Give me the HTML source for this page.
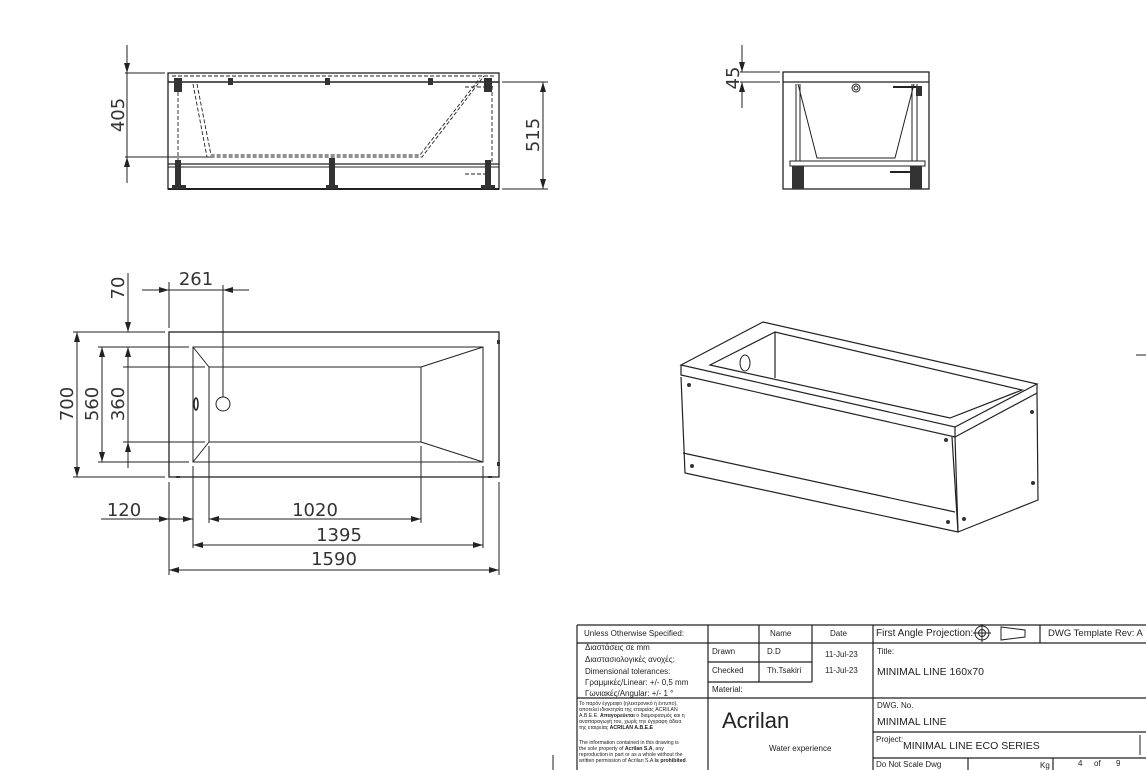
<!DOCTYPE html>
<html><head><meta charset="utf-8"><style>
html,body{margin:0;padding:0;background:#fff;}
svg{display:block;font-family:"DejaVu Sans","Liberation Sans",sans-serif;}
.d{font-size:18px;fill:#333;}
.t{font-size:8px;fill:#222;font-family:"Liberation Sans",sans-serif;}
.tb{font-family:"Liberation Sans",sans-serif;fill:#222;}
</style></head><body>
<svg width="1146" height="770" viewBox="0 0 1146 770" xmlns="http://www.w3.org/2000/svg">
<defs>
<marker id="a" viewBox="0 0 10 6" refX="10" refY="3" markerWidth="10" markerHeight="6" orient="auto-start-reverse" markerUnits="userSpaceOnUse"><path d="M0,0L10,3L0,6z" fill="#222"/></marker>
</defs>
<g stroke="#222" fill="none" stroke-width="1">
<!-- FRONT VIEW -->
<rect x="168" y="73" width="331" height="116" stroke-width="1.3"/>
<line x1="168" y1="82" x2="499" y2="82" stroke-width="1.5"/>
<line x1="168" y1="164" x2="499" y2="164" stroke-width="1.3"/>
<line x1="168" y1="167" x2="499" y2="167"/>
<line x1="168" y1="189" x2="499" y2="189" stroke-width="2"/>
<g stroke-dasharray="4,2" stroke-width="0.9">
<path d="M172,76 H496"/>
<path d="M178,86 V162 M492,86 V162"/>
<path d="M193,84 L207,157 H422 L484,76"/>
<path d="M197,84 L211,155 H420 L480,78"/>
<path d="M465,87 H495 M465,174 H490"/>
</g>
<g fill="#333" stroke="none">
<rect x="174" y="78" width="8" height="14"/><rect x="484" y="78" width="8" height="14"/>
<rect x="175" y="160" width="6" height="29"/><rect x="329" y="158" width="6" height="31"/><rect x="485" y="160" width="6" height="29"/>
<rect x="228" y="78" width="5" height="7"/><rect x="325" y="78" width="5" height="7"/><rect x="428" y="78" width="5" height="7"/>
<rect x="172" y="185" width="14" height="4"/><rect x="326" y="185" width="12" height="4"/><rect x="481" y="185" width="14" height="4"/>
</g>
<line x1="125" y1="73" x2="165" y2="73"/><line x1="125" y1="157" x2="212" y2="157"/>
<line x1="127" y1="45" x2="127" y2="73" marker-end="url(#a)"/>
<line x1="127" y1="183" x2="127" y2="157" marker-end="url(#a)"/>
<line x1="127" y1="73" x2="127" y2="157"/>
<line x1="502" y1="82" x2="548" y2="82"/><line x1="502" y1="189" x2="548" y2="189"/>
<line x1="543" y1="82" x2="543" y2="189" marker-start="url(#a)" marker-end="url(#a)"/>

<!-- SIDE VIEW -->
<rect x="783" y="72" width="146" height="117" stroke-width="1.3"/>
<line x1="783" y1="82" x2="929" y2="82" stroke-width="1.3"/>
<path d="M798,84 L817,158 H895 L914,84"/>
<rect x="790" y="161" width="135" height="5"/>
<line x1="796" y1="84" x2="796" y2="161"/><line x1="800" y1="84" x2="800" y2="161"/>
<line x1="912" y1="84" x2="912" y2="161"/><line x1="917" y1="84" x2="917" y2="161"/>
<line x1="893" y1="87" x2="920" y2="87" stroke-width="2"/><line x1="890" y1="172" x2="920" y2="172" stroke-width="2"/>
<circle cx="856" cy="88" r="4"/><circle cx="856" cy="88" r="2"/>
<g fill="#333" stroke="none">
<rect x="792" y="166" width="12" height="23"/><rect x="910" y="166" width="12" height="23"/>
<rect x="916" y="86" width="6" height="10"/><rect x="916" y="176" width="6" height="10"/>
</g>
<line x1="740" y1="72" x2="780" y2="72"/><line x1="740" y1="82" x2="780" y2="82"/>
<line x1="742" y1="45" x2="742" y2="72" marker-end="url(#a)"/>
<line x1="742" y1="108" x2="742" y2="82" marker-end="url(#a)"/>

<!-- PLAN VIEW -->
<rect x="169" y="332" width="330" height="145" stroke-width="1.3"/>
<rect x="193" y="347" width="290" height="115"/>
<rect x="209" y="367" width="212" height="75"/>
<path d="M193,347 L209,367 M193,462 L209,442 M483,347 L421,367 M483,462 L421,442"/>
<circle cx="223" cy="404" r="7"/>
<ellipse cx="196" cy="404" rx="2" ry="6" stroke-width="1.5"/>
<g fill="#333" stroke="none"><rect x="497" y="340" width="3" height="4"/><rect x="497" y="462" width="3" height="4"/><rect x="176" y="476" width="4" height="2"/><rect x="488" y="476" width="4" height="2"/></g>
<line x1="73" y1="332" x2="165" y2="332"/><line x1="73" y1="477" x2="165" y2="477"/>
<line x1="98" y1="347" x2="189" y2="347"/><line x1="98" y1="462" x2="189" y2="462"/>
<line x1="123" y1="367" x2="205" y2="367"/><line x1="123" y1="442" x2="205" y2="442"/>
<line x1="77" y1="332" x2="77" y2="477" marker-start="url(#a)" marker-end="url(#a)"/>
<line x1="102" y1="347" x2="102" y2="462" marker-start="url(#a)" marker-end="url(#a)"/>
<line x1="128" y1="273" x2="128" y2="332" marker-end="url(#a)"/>
<line x1="128" y1="367" x2="128" y2="347" marker-end="url(#a)"/>
<line x1="128" y1="347" x2="128" y2="367"/>
<line x1="128" y1="468" x2="128" y2="442" marker-end="url(#a)"/>
<line x1="128" y1="367" x2="128" y2="442"/>
<line x1="169" y1="282" x2="169" y2="328"/><line x1="223" y1="285" x2="223" y2="397"/>
<line x1="142" y1="290" x2="169" y2="290" marker-end="url(#a)"/>
<line x1="249" y1="290" x2="223" y2="290" marker-end="url(#a)"/>
<line x1="169" y1="290" x2="223" y2="290"/>
<line x1="169" y1="482" x2="169" y2="575"/><line x1="499" y1="482" x2="499" y2="575"/>
<line x1="193" y1="466" x2="193" y2="548"/><line x1="483" y1="466" x2="483" y2="548"/>
<line x1="209" y1="446" x2="209" y2="523"/><line x1="421" y1="446" x2="421" y2="523"/>
<line x1="101" y1="519" x2="169" y2="519" marker-end="url(#a)"/>
<line x1="169" y1="519" x2="193" y2="519" marker-end="url(#a)"/>
<line x1="209" y1="519" x2="421" y2="519" marker-start="url(#a)" marker-end="url(#a)"/>
<line x1="193" y1="545" x2="483" y2="545" marker-start="url(#a)" marker-end="url(#a)"/>
<line x1="169" y1="570" x2="499" y2="570" marker-start="url(#a)" marker-end="url(#a)"/>

<!-- ISO VIEW -->
<g stroke-width="1.2">
<path d="M681,365 L763,322 L1037,384 L955,427 Z"/>
<path d="M681,365 L681,375 L955,437 L955,427"/>
<path d="M955,437 L1037,393 L1037,384"/>
<path d="M710,365 L775,332 L1022,390 L950,418 Z"/>
<line x1="775" y1="332" x2="775" y2="378"/>
<path d="M681,377 L685,473 L958,532 L955,437"/>
<path d="M683,453 L955,512"/>
<path d="M958,532 L1038,500 L1037,393"/>
<path d="M952,437 L958,532"/>
</g>
<ellipse cx="745" cy="363" rx="5" ry="8"/>
<g fill="#333" stroke="none">
<circle cx="689" cy="385" r="2"/><circle cx="692" cy="466" r="2"/><circle cx="946" cy="440" r="2"/><circle cx="948" cy="522" r="2"/><circle cx="964" cy="519" r="2"/><circle cx="1032" cy="412" r="2"/><circle cx="1033" cy="483" r="2"/>
</g>

<line x1="553" y1="755" x2="553" y2="770"/>
<line x1="1136" y1="355" x2="1146" y2="355"/>
<line x1="1140" y1="735" x2="1140" y2="755"/>

<!-- TITLE BLOCK -->
<g stroke-width="1.2">
<line x1="577" y1="625" x2="1146" y2="625"/>
<line x1="577" y1="625" x2="577" y2="770"/>
<line x1="708" y1="625" x2="708" y2="770"/>
<line x1="759" y1="625" x2="759" y2="682"/>
<line x1="812" y1="625" x2="812" y2="682"/>
<line x1="873" y1="625" x2="873" y2="770"/>
<line x1="1040" y1="625" x2="1040" y2="643"/>
<line x1="577" y1="643" x2="1146" y2="643"/>
<line x1="708" y1="662" x2="812" y2="662"/>
<line x1="708" y1="682" x2="812" y2="682"/>
<line x1="577" y1="698" x2="708" y2="698"/>
<line x1="708" y1="698" x2="1146" y2="698"/>
<line x1="873" y1="732" x2="1146" y2="732"/>
<line x1="873" y1="758" x2="1146" y2="758"/>
<line x1="968" y1="758" x2="968" y2="770"/>
<line x1="1053" y1="758" x2="1053" y2="770"/>
</g>
<circle cx="982" cy="633" r="7"/><circle cx="982" cy="633" r="3.5"/>
<line x1="973" y1="633" x2="991" y2="633"/><line x1="982" y1="624" x2="982" y2="642"/>
<path d="M1001,627 L1025,630 L1025,637 L1001,640 Z"/>
</g>

<text class="d" transform="translate(124,115) rotate(-90)" text-anchor="middle">405</text>
<text class="d" transform="translate(539,135) rotate(-90)" text-anchor="middle">515</text>
<text class="d" transform="translate(739,78) rotate(-90)" text-anchor="middle">45</text>
<text class="d" transform="translate(73,404) rotate(-90)" text-anchor="middle">700</text>
<text class="d" transform="translate(98,404) rotate(-90)" text-anchor="middle">560</text>
<text class="d" transform="translate(124,404) rotate(-90)" text-anchor="middle">360</text>
<text class="d" transform="translate(124,288) rotate(-90)" text-anchor="middle">70</text>
<text class="d" x="196" y="285" text-anchor="middle">261</text>
<text class="d" x="124" y="516" text-anchor="middle">120</text>
<text class="d" x="315" y="516" text-anchor="middle">1020</text>
<text class="d" x="339" y="541" text-anchor="middle">1395</text>
<text class="d" x="334" y="565" text-anchor="middle">1590</text>

<text class="t" x="584" y="636">Unless Otherwise Specified:</text>
<text class="t" x="770" y="636">Name</text>
<text class="t" x="830" y="636">Date</text>
<text class="t" x="585" y="650">Διαστάσεις σε mm</text>
<text class="t" x="585" y="662">Διαστασιολογικές ανοχές:</text>
<text class="t" x="585" y="674">Dimensional tolerances:</text>
<text class="t" x="585" y="685">Γραμμικές/Linear: +/- 0,5 mm</text>
<text class="t" x="585" y="696">Γωνιακές/Angular: +/- 1 °</text>
<text class="t" x="712" y="654">Drawn</text>
<text class="t" x="767" y="654">D.D</text>
<text class="t" x="825" y="657">11-Jul-23</text>
<text class="t" x="712" y="673">Checked</text>
<text class="t" x="767" y="673">Th.Tsakiri</text>
<text class="t" x="825" y="673">11-Jul-23</text>
<text class="t" x="712" y="692">Material:</text>
<g font-size="5.2" class="tb">
<text x="579" y="705">Το παρόν έγγραφο (ηλεκτρονικό ή έντυπο),</text>
<text x="579" y="711">αποτελεί ιδιοκτησία της εταιρείας ACRILAN</text>
<text x="579" y="717">Α.Β.Ε.Ε. <tspan font-weight="bold">Απαγορεύεται</tspan> ο διαμοιρασμός και η</text>
<text x="579" y="723">αναπαραγωγή του, χωρίς την έγγραφη άδεια</text>
<text x="579" y="729">της εταιρείας <tspan font-weight="bold">ACRILAN A.B.E.E</tspan></text>
<text x="579" y="744">The information contained in this drawing is</text>
<text x="579" y="750">the sole property of <tspan font-weight="bold">Acrilan S.A</tspan>, any</text>
<text x="579" y="756">reproduction in part or as a whole without the</text>
<text x="579" y="762">written permission of Acrilan S.A <tspan font-weight="bold">is prohibited</tspan>.</text>
</g>
<text x="722" y="728" font-size="22" class="tb">Acrilan</text>
<text class="t" x="769" y="751">Water experience</text>
<text x="876" y="636" font-size="10" class="tb">First Angle Projection:</text>
<text x="1048" y="636" font-size="9.5" class="tb">DWG Template Rev: A</text>
<text class="t" x="877" y="654">Title:</text>
<text x="877" y="675" font-size="10.5" class="tb">MINIMAL LINE 160x70</text>
<text class="t" x="877" y="708">DWG. No.</text>
<text x="877" y="725" font-size="10.5" class="tb">MINIMAL LINE</text>
<text class="t" x="876" y="742">Project:</text>
<text x="903" y="749" font-size="10.5" class="tb">MINIMAL LINE ECO SERIES</text>
<text class="t" x="876" y="767">Do Not Scale Dwg</text>
<text class="t" x="1040" y="768">Kg</text>
<text class="t" x="1078" y="766">4</text>
<text class="t" x="1094" y="766">of</text>
<text class="t" x="1116" y="766">9</text>
</svg>
</body></html>
